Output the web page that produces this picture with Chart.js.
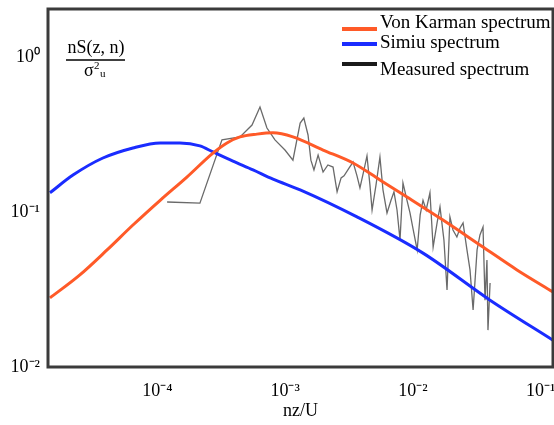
<!DOCTYPE html>
<html>
<head>
<meta charset="utf-8">
<script src="https://cdn.jsdelivr.net/npm/chart.js@4.4.1/dist/chart.umd.min.js"></script>
<style>
  body { margin: 0; background: #fff; }
  #wrap { width: 554px; height: 425px; }
</style>
</head>
<body>
<div id="wrap"><canvas id="spec" width="554" height="425"></canvas></div>
<script>
// values (nz/U, nS/sigma^2)
var karmanX = [1.44e-5, 2.47e-5, 4.03e-5, 6.43e-5, 1.05e-4, 1.70e-4, 2.72e-4, 3.50e-4, 4.43e-4, 6.01e-4,
               8.03e-4, 1.15e-3, 1.98e-3, 3.40e-3, 5.52e-3, 8.99e-3, 1.72e-2, 3.54e-2, 6.53e-2, 0.125];
var karmanY = [0.0279, 0.0393, 0.0569, 0.0824, 0.119, 0.168, 0.240, 0.279, 0.305, 0.318,
               0.324, 0.305, 0.251, 0.207, 0.161, 0.125, 0.0887, 0.0594, 0.0423, 0.0305];

var simiuX = [1.44e-5, 2.18e-5, 3.74e-5, 6.43e-5, 1.05e-4, 1.50e-4, 2.15e-4, 2.72e-4, 3.90e-4, 5.60e-4,
              8.03e-4, 1.31e-3, 3.65e-3, 1.20e-2, 4.02e-2, 0.125];
var simiuY = [0.133, 0.173, 0.223, 0.259, 0.279, 0.279, 0.267, 0.244, 0.213, 0.187,
              0.163, 0.139, 0.093, 0.0543, 0.0270, 0.0149];

var measX = [1.19e-4, 2.15e-4, 3.20e-4, 4.43e-4, 5.50e-4, 6.35e-4, 7.20e-4, 8.32e-4, 9.96e-4, 1.15e-3,
             1.31e-3, 1.40e-3, 1.51e-3, 1.59e-3, 1.68e-3, 1.81e-3, 1.98e-3, 2.16e-3, 2.37e-3, 2.55e-3,
             2.74e-3, 2.89e-3, 3.16e-3, 3.40e-3, 3.65e-3, 3.85e-3, 4.14e-3, 4.37e-3, 4.61e-3, 4.79e-3,
             5.14e-3, 5.52e-3, 5.83e-3, 6.27e-3, 6.74e-3, 7.11e-3, 7.51e-3, 7.93e-3, 8.36e-3, 8.99e-3,
             9.49e-3, 1.00e-2, 1.08e-2, 1.14e-2, 1.20e-2, 1.27e-2, 1.36e-2, 1.44e-2, 1.55e-2, 1.63e-2,
             1.75e-2, 1.85e-2, 1.95e-2, 2.06e-2, 2.21e-2, 2.34e-2, 2.47e-2, 2.65e-2, 2.80e-2, 2.96e-2,
             3.18e-2, 3.35e-2, 3.54e-2, 3.67e-2, 3.80e-2, 3.87e-2, 4.02e-2];
var measY = [0.116, 0.114, 0.292, 0.305, 0.364, 0.475, 0.348, 0.292, 0.251, 0.216,
             0.375, 0.404, 0.314, 0.216, 0.187, 0.233, 0.181, 0.201, 0.195, 0.135,
             0.166, 0.171, 0.192, 0.210, 0.171, 0.143, 0.187, 0.230, 0.149, 0.103,
             0.149, 0.226, 0.139, 0.0986, 0.119, 0.135, 0.103, 0.0659, 0.154, 0.119,
             0.0986, 0.0788, 0.0569, 0.0957, 0.119, 0.103, 0.133, 0.0594, 0.0861, 0.108,
             0.0659, 0.0314, 0.0929, 0.0766, 0.0690, 0.0788, 0.0849, 0.0569, 0.0423, 0.0233,
             0.0569, 0.0711, 0.0800, 0.0270, 0.0490, 0.0173, 0.0348];

var xTicks = [1e-4, 1e-3, 1e-2, 1e-1];
var xTickLabels = ['10⁻⁴', '10⁻³', '10⁻²', '10⁻¹'];
var yTicks = [1e-2, 1e-1, 1];
var yTickLabels = ['10⁻²', '10⁻¹', '10⁰'];

var seriesNames = ['Von Karman spectrum', 'Simiu spectrum', 'Measured spectrum'];
var serif = '"Liberation Serif", "Times New Roman", serif';

function pts(xs, ys) {
    return xs.map(function (x, i) { return { x: x, y: ys[i] }; });
}

var frame = {
    id: 'frame',
    afterDraw: function (chart) {
        var ctx = chart.ctx, a = chart.chartArea;
        ctx.save();
        ctx.strokeStyle = '#3b3b3b';
        ctx.lineWidth = 3;
        ctx.strokeRect(a.left, a.top, a.right - a.left, a.bottom - a.top);

        // y label as a fraction
        ctx.fillStyle = '#000';
        ctx.font = '18px ' + serif;
        ctx.textAlign = 'center';
        ctx.textBaseline = 'alphabetic';
        ctx.fillText('nS(z, n)', 96, 53);
        ctx.lineWidth = 1.3;
        ctx.strokeStyle = '#000';
        ctx.beginPath(); ctx.moveTo(66, 60); ctx.lineTo(125, 60); ctx.stroke();
        ctx.textAlign = 'left';
        ctx.fillText('σ', 84, 76);
        ctx.font = '11px ' + serif;
        ctx.fillText('2', 94, 69);
        ctx.fillText('u', 100, 77);

        // legend
        var cols = ['#ff5a28', '#1a2cff', '#1a1a1a'];
        var lineY = [29, 44, 64];
        var textY = [28, 48, 75];
        ctx.font = '19px ' + serif;
        for (var i = 0; i < 3; i++) {
            ctx.strokeStyle = cols[i];
            ctx.lineWidth = 4;
            ctx.beginPath(); ctx.moveTo(342, lineY[i]); ctx.lineTo(377, lineY[i]); ctx.stroke();
            ctx.fillStyle = '#000';
            ctx.fillText(seriesNames[i], 380, textY[i]);
        }
        ctx.restore();
    }
};

new Chart(document.getElementById('spec'), {
    type: 'line',
    data: {
        datasets: [{
            label: seriesNames[0],
            data: pts(karmanX, karmanY),
            borderColor: '#ff5a28',
            borderWidth: 3,
            cubicInterpolationMode: 'monotone',
            pointRadius: 0
        }, {
            label: seriesNames[1],
            data: pts(simiuX, simiuY),
            borderColor: '#1a2cff',
            borderWidth: 3,
            cubicInterpolationMode: 'monotone',
            pointRadius: 0
        }, {
            label: seriesNames[2],
            data: pts(measX, measY),
            borderColor: '#6a6a6a',
            borderWidth: 1.3,
            tension: 0,
            pointRadius: 0
        }]
    },
    options: {
        responsive: false,
        animation: false,
        layout: { padding: { left: 0, right: 1, top: 9, bottom: 0 } },
        plugins: { legend: { display: false }, tooltip: { enabled: false } },
        scales: {
            x: {
                type: 'logarithmic',
                min: 1.39e-5,
                max: 0.125,
                grid: { display: false, drawTicks: false },
                border: { display: false },
                afterBuildTicks: function (s) { s.ticks = xTicks.map(function (v) { return { value: v }; }); },
                afterFit: function (s) { s.height = 58; s.paddingLeft = 0; s.paddingRight = 0; },
                ticks: {
                    autoSkip: false, maxRotation: 0, padding: 13, color: '#000',
                    font: { family: serif, size: 18 },
                    callback: function (v) { return xTickLabels[xTicks.indexOf(v)]; }
                },
                title: { display: true, text: 'nz/U', color: '#000', font: { family: serif, size: 18 }, padding: { top: 0, bottom: 3 } }
            },
            y: {
                type: 'logarithmic',
                min: 0.01,
                max: 2.04,
                grid: { display: false, drawTicks: false },
                border: { display: false },
                afterBuildTicks: function (s) { s.ticks = yTicks.map(function (v) { return { value: v }; }); },
                afterFit: function (s) { s.width = 48; s.paddingTop = 0; s.paddingBottom = 0; },
                ticks: {
                    autoSkip: false, padding: 8, color: '#000',
                    font: { family: serif, size: 18 },
                    callback: function (v) { return yTickLabels[yTicks.indexOf(v)]; }
                }
            }
        }
    },
    plugins: [frame]
});
</script>
</body>
</html>
